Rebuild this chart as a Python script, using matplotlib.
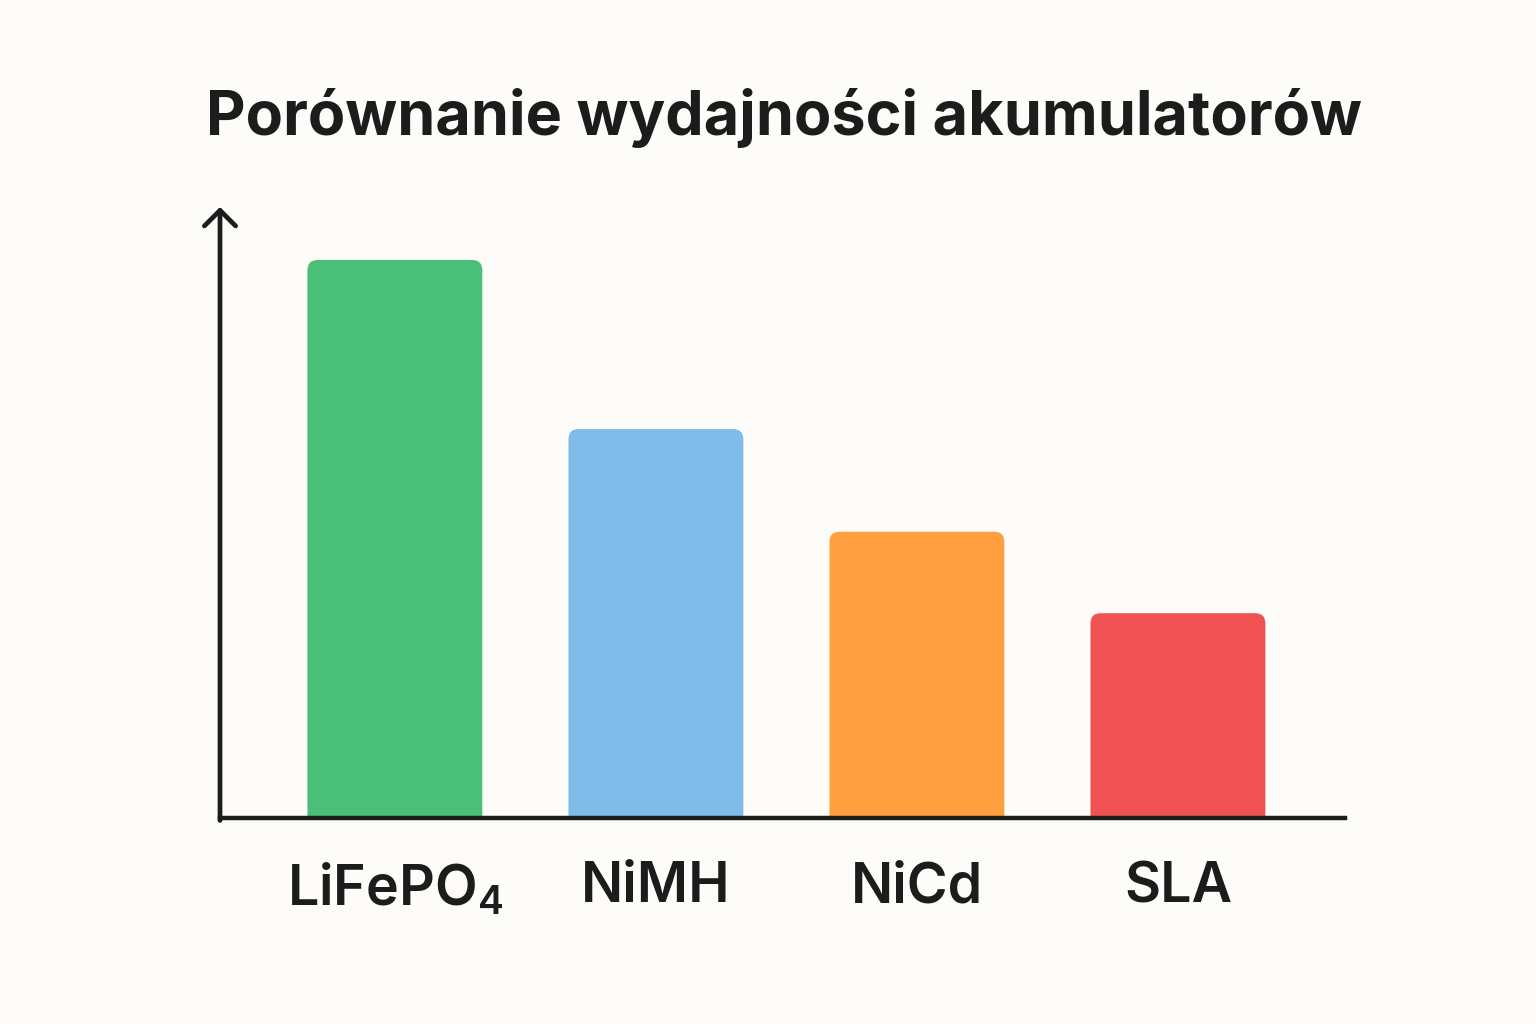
import matplotlib
matplotlib.use("Agg")
import matplotlib.pyplot as plt
from matplotlib.patches import FancyBboxPatch

categories = ["LiFePO$_4$", "NiMH", "NiCd", "SLA"]
values = [100, 69.7, 51.3, 36.7]
colors = ["#4ABF78", "#80BCEA", "#FF9F40", "#F05254"]
title = "Porównanie wydajności akumulatorów"

BG = "#FDFCF9"
INK = "#1C1C1C"

plt.rcParams['font.family'] = ['Inter', 'DejaVu Sans']
plt.rcParams['mathtext.fontset'] = 'custom'
plt.rcParams['mathtext.rm'] = 'Inter:semibold'
plt.rcParams['mathtext.it'] = 'Inter:semibold'
plt.rcParams['mathtext.bf'] = 'Inter:bold'

fig = plt.figure(figsize=(15.36, 10.24), dpi=100, facecolor=BG)
ax = fig.add_axes([220/1536, 206/1024, 1125/1536, 611/1024])
ax.set_facecolor(BG)

x = list(range(len(categories)))
width = 0.67
ax.set_xlim(-0.670, 3.640)
ax.set_ylim(0, 109.5)

bars = ax.bar(x, values, width=width, color=colors)
# replace with top-rounded patches
px_per_x = 1125 / (3.640 + 0.670)
px_per_y = 611 / 109.5
r_px = 10
for b, c in zip(bars, colors):
    b.set_visible(False)
    bx, bw, bh = b.get_x(), b.get_width(), b.get_height()
    p = FancyBboxPatch((bx, -5), bw, bh + 5,
                       boxstyle=f"round,pad=0,rounding_size={r_px/px_per_x}",
                       mutation_aspect=px_per_x / px_per_y,
                       facecolor=c, edgecolor='none', zorder=2)
    ax.add_patch(p)

for s in ['top', 'right', 'left']:
    ax.spines[s].set_visible(False)
ax.spines['bottom'].set_linewidth(3.2)
ax.spines['bottom'].set_color(INK)
ax.spines['bottom'].set_zorder(3)
ax.spines['bottom'].set_capstyle('projecting')

ax.annotate('', xy=(0, 1.0), xytext=(0, -0.004), xycoords='axes fraction',
            arrowprops=dict(arrowstyle='->,head_length=0.45,head_width=0.45', lw=3.4,
                            color=INK, mutation_scale=25, shrinkA=0, shrinkB=0),
            annotation_clip=False, zorder=4)

ax.set_yticks([])
ax.set_xticks(x)
ax.set_xticklabels(categories, fontsize=40, fontweight='semibold', color=INK)
ax.tick_params(axis='x', length=0, pad=31)

fig.text(784/1536, (1024-135)/1024, title, ha='center', va='baseline',
         fontsize=44, fontweight='bold', color=INK)

fig.savefig("out.png", dpi=100, facecolor=BG)
